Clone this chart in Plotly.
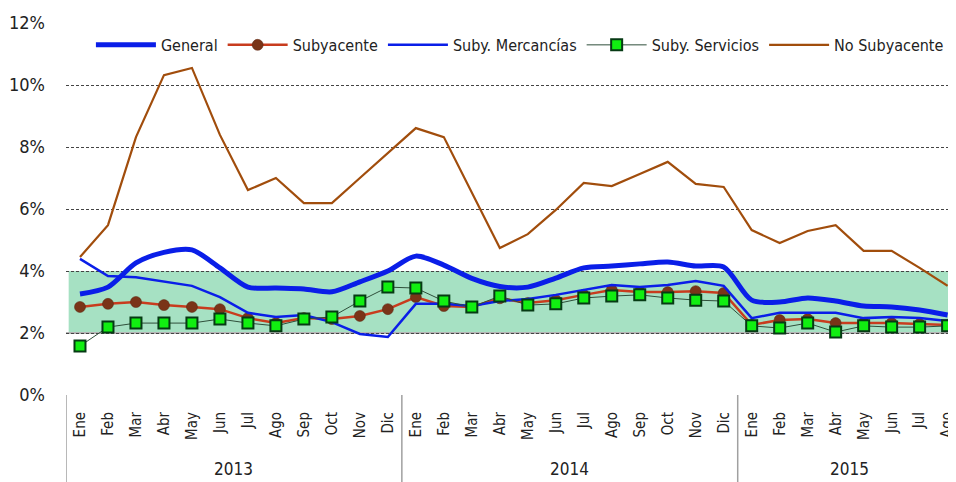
import plotly.graph_objects as go

years = ["2013", "2014", "2015"]
year_months = [12, 12, 8]
months = ["Ene", "Feb", "Mar", "Abr", "May", "Jun", "Jul", "Ago", "Sep", "Oct", "Nov", "Dic"] * 2 + \
         ["Ene", "Feb", "Mar", "Abr", "May", "Jun", "Jul", "Ago"]

general = [3.26, 3.48, 4.26, 4.6, 4.68, 4.1, 3.48, 3.45, 3.42, 3.33, 3.65, 4.0,
           4.48, 4.19, 3.76, 3.5, 3.48, 3.77, 4.1, 4.16, 4.23, 4.29, 4.16, 4.13,
           3.06, 3.0, 3.13, 3.03, 2.87, 2.84, 2.74, 2.58]
subyacente = [2.84, 2.94, 3.0, 2.9, 2.84, 2.77, 2.48, 2.32, 2.48, 2.45, 2.55, 2.77,
              3.16, 2.87, 2.84, 3.12, 2.97, 3.06, 3.23, 3.39, 3.32, 3.32, 3.35, 3.29,
              2.26, 2.42, 2.45, 2.32, 2.32, 2.32, 2.29, 2.26]
mercancias = [4.39, 3.84, 3.8, 3.65, 3.52, 3.16, 2.65, 2.52, 2.58, 2.35, 1.97, 1.87,
              2.94, 2.94, 2.87, 3.03, 3.1, 3.23, 3.39, 3.55, 3.48, 3.55, 3.68, 3.52,
              2.48, 2.65, 2.65, 2.65, 2.48, 2.52, 2.48, 2.39]
servicios = [1.58, 2.19, 2.32, 2.32, 2.32, 2.45, 2.32, 2.23, 2.45, 2.52, 3.03, 3.48,
             3.45, 3.03, 2.84, 3.19, 2.9, 2.94, 3.13, 3.19, 3.23, 3.13, 3.06, 3.03,
             2.23, 2.16, 2.32, 2.03, 2.23, 2.19, 2.19, 2.23]
no_subyacente = [4.45, 5.48, 8.32, 10.32, 10.55, 8.39, 6.61, 7.0, 6.19, 6.19, 7.0, 7.8,
                 8.61, 8.32, 6.53, 4.74, 5.19, 5.97, 6.84, 6.74, 7.13, 7.52, 6.81, 6.71,
                 5.32, 4.9, 5.29, 5.48, 4.65, 4.65, 4.1, 3.52]

y_ticks = [0, 2, 4, 6, 8, 10, 12]
y_ticktext = ["0%", "2%", "4%", "6%", "8%", "10%", "12%"]
target_low, target_high = 2, 4

FONT = "DejaVu Sans Condensed, DejaVu Sans, sans-serif"
x = list(range(len(months)))

fig = go.Figure()
fig.add_trace(go.Scatter(x=x, y=general, name="General", mode="lines",
                         line=dict(color="#0a1ee8", width=5, shape="spline", smoothing=0.8)))
fig.add_trace(go.Scatter(x=x, y=subyacente, name="Subyacente", mode="lines+markers",
                         line=dict(color="#c83c1e", width=2.5),
                         marker=dict(symbol="circle", size=11, color="#7a3418",
                                     line=dict(color="#5a2410", width=0.5))))
fig.add_trace(go.Scatter(x=x, y=mercancias, name="Suby. Mercancías", mode="lines",
                         line=dict(color="#0a1ee8", width=2.5)))
fig.add_trace(go.Scatter(x=x, y=servicios, name="Suby. Servicios", mode="lines+markers",
                         line=dict(color="#2f4f3a", width=1),
                         marker=dict(symbol="square", size=11, color="#11ee11",
                                     line=dict(color="#063a14", width=2))))
fig.add_trace(go.Scatter(x=x, y=no_subyacente, name="No Subyacente", mode="lines",
                         line=dict(color="#a14d0c", width=2.2)))

# target band
fig.add_shape(type="rect", xref="paper", yref="y", x0=0.003, x1=1, y0=target_low, y1=target_high,
              fillcolor="#a6e1c3", line=dict(width=0), layer="below")
fig.add_shape(type="line", xref="paper", yref="y", x0=0, x1=1, y0=target_low, y1=target_low,
              line=dict(color="#b4b4b4", width=2), layer="between")

# year groups: dividers and labels
start = 0
bounds = [-0.5]
for yr, n in zip(years, year_months):
    fig.add_annotation(x=start + (n - 1) / 2, y=-0.2, xref="x", yref="paper", text=yr,
                       showarrow=False, yanchor="middle",
                       font=dict(size=17, family=FONT, color="#222222"))
    start += n
    bounds.append(start - 0.5)
for b in bounds[:-1]:
    fig.add_shape(type="line", xref="x", yref="paper", x0=b, x1=b, y0=0, y1=-0.3,
                  line=dict(color="#a0a0a0", width=1.5))

fig.update_layout(
    width=956, height=482,
    margin=dict(l=58, r=8, t=15, b=95),
    paper_bgcolor="white", plot_bgcolor="white",
    font=dict(family=FONT, color="#222222"),
    showlegend=True,
    legend=dict(orientation="h", x=0.028, xanchor="left", y=0.941, yanchor="middle",
                bgcolor="rgba(0,0,0,0)", font=dict(size=16, family=FONT, color="#222222"),
                itemwidth=60, tracegroupgap=0),
)
fig.update_yaxes(range=[0, 12], tickvals=y_ticks, ticktext=y_ticktext, automargin=False,
                 showgrid=True, gridcolor="#444444", griddash="3px,2px", gridwidth=1,
                 zeroline=False, showline=False, ticks="",
                 tickfont=dict(size=18, family=FONT, color="#222222"),
                 ticklabelstandoff=20)
fig.update_xaxes(range=[-0.5, 31.3], tickvals=x, ticktext=months, showgrid=False,
                 automargin=False,
                 showline=False, ticks="", tickangle=-90, zeroline=False,
                 tickfont=dict(size=15, family=FONT, color="#222222"),
                 ticklabelstandoff=13)

fig.write_html("out.html")
